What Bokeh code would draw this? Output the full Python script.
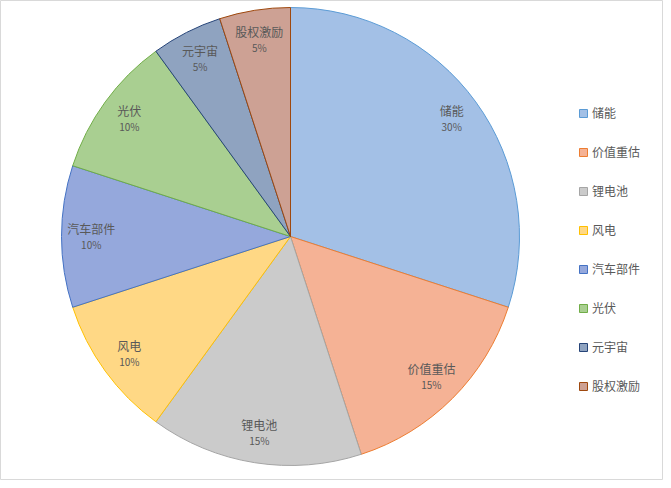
import math
from bokeh.plotting import figure
from bokeh.models import ColumnDataSource, Range1d, Legend, LegendItem
from bokeh.core.properties import value
from bokeh.embed import file_html
from bokeh.resources import INLINE

# ---- data ----
names = ["储能", "价值重估", "锂电池", "风电", "汽车部件", "光伏", "元宇宙", "股权激励"]
shares = [30, 15, 15, 10, 10, 10, 5, 5]
pct_labels = ["30%", "15%", "15%", "10%", "10%", "10%", "5%", "5%"]
fill_colors = ["#a3c0e6", "#f5b295", "#cbcbcb", "#ffd885", "#95a8dc", "#a9cf91", "#8fa3c0", "#cda194"]
line_colors = ["#5b9bd5", "#ed7d31", "#a5a5a5", "#ffc000", "#4472c4", "#70ad47", "#264478", "#9e480e"]

# ---- layout constants (pixels) ----
W, H = 663, 480
CX, CY = 290, H - 236
R = 229
LABEL_R = 0.87 * R

total = float(sum(shares))
starts, ends, lx, ly = [], [], [], []
a = math.pi / 2
for s in shares:
    span = 2 * math.pi * s / total
    starts.append(a)
    ends.append(a - span)
    mid = a - span / 2
    lx.append(CX + LABEL_R * math.cos(mid))
    ly.append(CY + LABEL_R * math.sin(mid))
    a -= span

src = ColumnDataSource(dict(name=names, start=starts, end=ends, fill=fill_colors,
                            line=line_colors, lx=lx, ly=ly, pct=pct_labels))

p = figure(width=W, height=H, output_backend="svg", toolbar_location=None,
           x_range=Range1d(0, W), y_range=Range1d(0, H), min_border=0)
p.axis.visible = False
p.grid.visible = False
p.outline_line_color = "#d9d9d9"
p.outline_line_width = 1
p.background_fill_color = "white"

w = p.wedge(x=CX, y=CY, radius=R, start_angle="start", end_angle="end", direction="clock",
            fill_color="fill", line_color="line", line_width=1, source=src)

p.text(x="lx", y="ly", text="name", source=src, text_align="center", text_baseline="bottom",
       text_font=value("Noto Sans CJK SC"), text_font_size="12px", text_color="#595959")
p.text(x="lx", y="ly", text="pct", source=src, text_align="center", text_baseline="top",
       text_font=value("Noto Sans CJK SC"), text_font_size="10px", text_color="#595959")

items = [LegendItem(label=n, renderers=[w], index=i) for i, n in enumerate(names)]
legend = Legend(items=items, location=(578, 86), glyph_width=10, glyph_height=10,
                spacing=22, label_text_font="Noto Sans CJK SC",
                label_text_font_size="12px", label_text_color="#595959",
                border_line_color=None, background_fill_alpha=0,
                label_standoff=4, padding=0, margin=0)
p.add_layout(legend)

open("out.html", "w").write(file_html(p, INLINE))
